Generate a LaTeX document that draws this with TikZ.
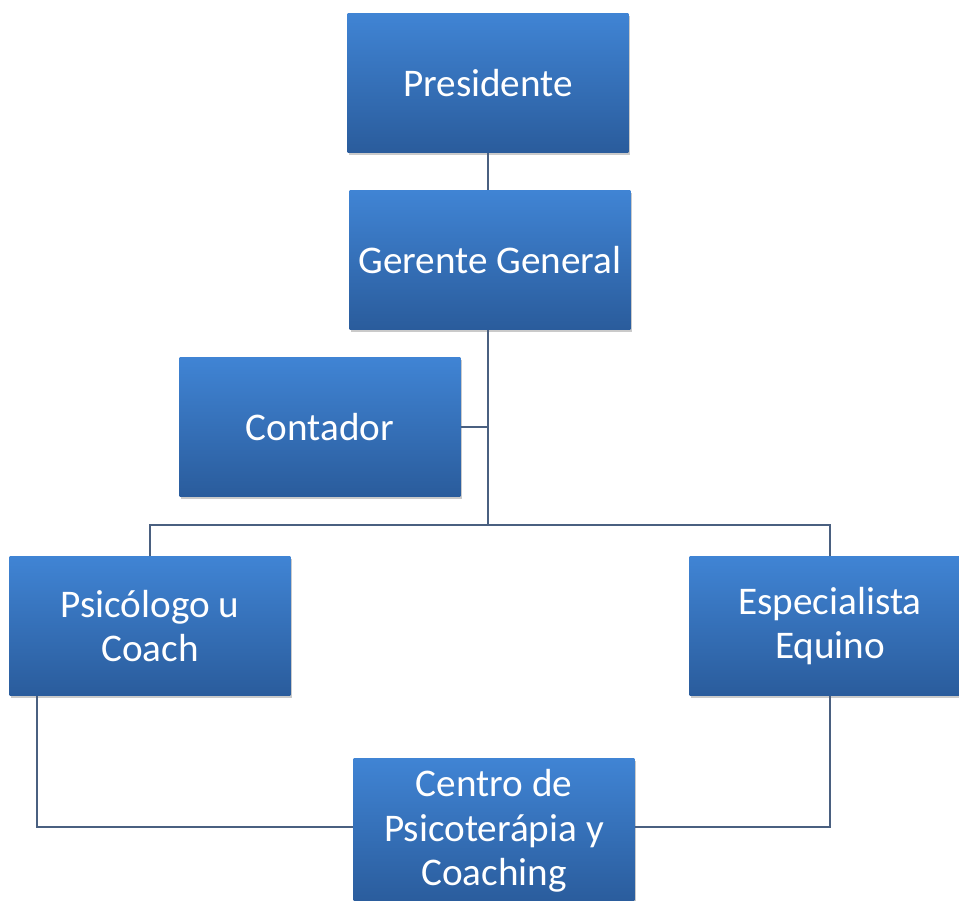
\documentclass[tikz,border=0pt]{standalone}
\usepackage{fontspec}
\setmainfont{Carlito}
\usepackage{tikz}
\usetikzlibrary{positioning,calc,shadows}
\definecolor{orgtop}{HTML}{4084D4}
\definecolor{orgbot}{HTML}{2A5C9C}
\definecolor{orgline}{HTML}{4A6080}

\begin{document}
\begin{tikzpicture}[x=0.02cm,y=-0.02cm,
    orgbox/.style={rectangle, top color=orgtop, bottom color=orgbot, draw=none,
      minimum width=5.62cm, minimum height=2.78cm, align=center, text=white,
      font=\fontsize{22.3}{25.2}\selectfont,
      drop shadow={shadow xshift=0.6pt, shadow yshift=-1.6pt, opacity=0.35, fill=black!60}},
    conn/.style={orgline, line width=1.1pt}]
  \useasboundingbox (0,0) rectangle (959,900);
  \clip (0,0) rectangle (959,900);

  % cuadros
  \node[orgbox] (pres) at (488,83) {Presidente};
  \node[orgbox] (ger) at (490,260) {Gerente General};
  \node[orgbox] (cont) at (320,427) {Contador};
  \node[orgbox] (psi) at (150,626) {Psicólogo u\\Coach};
  \node[orgbox] (esp) at (830,626) {Especialista\\Equino};
  \coordinate (bus) at (488,525);

  % lineas
  \draw[conn] (pres.south) -- (pres.south |- ger.north);
  \draw[conn] (pres.south |- ger.south) -- (bus);
  \draw[conn] (cont.east) -- (cont.east -| bus);
  \draw[conn] (psi.north) |- (bus) -| (esp.north);

  \node[orgbox, minimum height=2.9cm] (cen) at (494,831) {Centro de\\Psicoterápia y\\Coaching};
  \draw[conn] ($(psi.south west)+(28,0)$) |- ($(cen.west)+(0,-4)$);
  \draw[conn] (esp.south) |- ($(cen.east)+(0,-4)$);
\end{tikzpicture}
\end{document}
